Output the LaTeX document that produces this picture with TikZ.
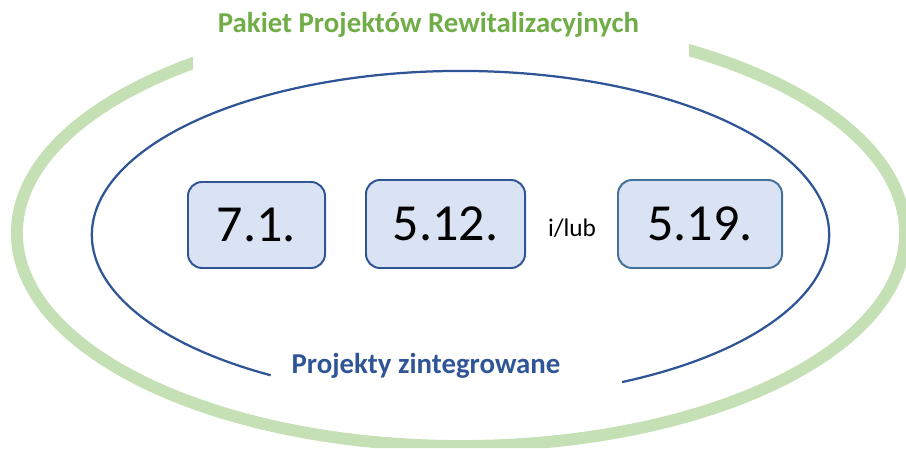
\documentclass[tikz,border=0pt]{standalone}
\usepackage{fontspec}
\setmainfont{Carlito}
\definecolor{pakietgreen}{HTML}{70AD47}
\definecolor{pakietring}{HTML}{C5E0B4}
\definecolor{zintblue}{HTML}{2F5597}
\definecolor{numfill}{HTML}{DAE3F3}
\definecolor{numedge}{HTML}{41719C}

\begin{document}
\begin{tikzpicture}[x=0.025cm,y=0.025cm,
    numbox/.style={draw=zintblue,fill=numfill,line width=1.4pt,rounded corners=10pt,
      minimum height=2.2cm,inner sep=0pt,font=\fontsize{37}{40}\selectfont},
    ringlabel/.style={font=\fontsize{20.5}{24}\selectfont\bfseries,inner sep=0pt,anchor=base}]
    \useasboundingbox (0,0) rectangle (906,448);
    \coordinate (outer) at (461,215);
    \coordinate (inner) at (460.5,213.2);
    % outer ring, cut open at the top
    \begin{scope}
      \clip (0,0) -- (0,448) -- (193,448) -- (193,370) -- (689,370) -- (689,448)
        -- (906,448) -- (906,0) -- cycle;
      \draw[pakietring,line width=8.5pt] (outer) ellipse[x radius=11.1cm,y radius=5.325cm];
    \end{scope}
    % inner ring, open at the bottom
    \draw[zintblue,line width=1.6pt] (inner) ++(296:9.2125cm and 4.095cm)
      arc[start angle=296,end angle=599,x radius=9.2125cm,y radius=4.095cm];
    \node[ringlabel,text=pakietgreen] (pakiet) at (428.5,415) {Pakiet Projektów Rewitalizacyjnych};
    \node[ringlabel,text=zintblue] (zint) at (426,75) {Projekty zintegrowane};
    \node[numbox,minimum width=3.425cm,minimum height=2.15cm] (p71) at (256.5,223) {7.1.};
    \node[numbox,minimum width=3.975cm] (p512) at (445.5,224) {5.12.};
    \node[font=\fontsize{18}{20}\selectfont,inner sep=0pt] (ilub) at (572,220) {i/lub};
    \node[numbox,draw=numedge,minimum width=4.1cm] (p519) at (700,224) {5.19.};
\end{tikzpicture}
\end{document}
